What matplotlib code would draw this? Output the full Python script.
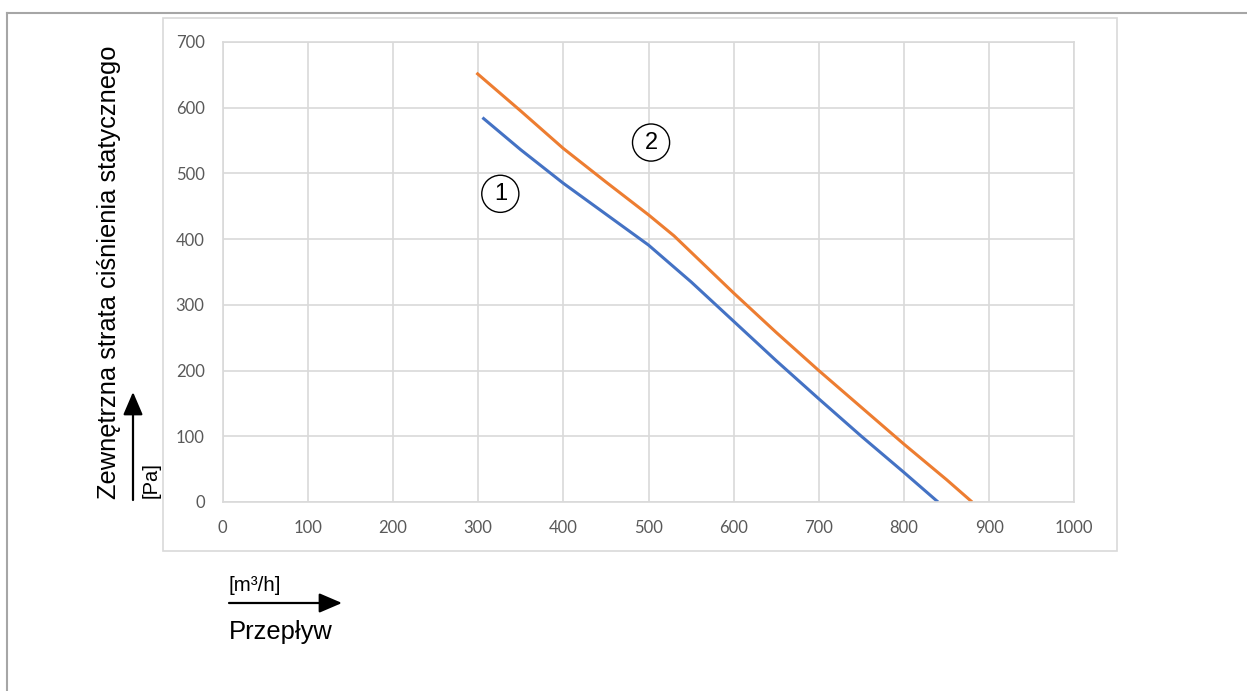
import matplotlib.pyplot as plt
from matplotlib.patches import Rectangle, FancyArrowPatch
from matplotlib.lines import Line2D

# ================= DATA =================
# curve 1 (blue) and curve 2 (orange): flow [m3/h] vs external static pressure [Pa]
flow_1 = [305, 350, 400, 450, 500, 550, 600, 650, 700, 750, 800, 840]
pressure_1 = [585, 536, 485, 438, 391, 335, 275, 215, 157, 100, 45, 0]

flow_2 = [298, 350, 400, 450, 500, 530, 600, 650, 700, 750, 800, 850, 880]
pressure_2 = [653, 595, 538, 487, 437, 405, 318, 258, 200, 144, 88, 34, 0]

x_ticks = [0, 100, 200, 300, 400, 500, 600, 700, 800, 900, 1000]
y_ticks = [0, 100, 200, 300, 400, 500, 600, 700]

y_label = "Zewnętrzna strata ciśnienia statycznego"
y_unit = "[Pa]"
x_label = "Przepływ"
x_unit = "[m³/h]"

BLUE = "#4472C4"
ORANGE = "#ED7D31"
GRID = "#D9D9D9"
TICK = "#595959"

W, H = 1247, 691
fig = plt.figure(figsize=(W / 100, H / 100), dpi=100)


def fx(px):
    return px / W


def fy(py):
    return 1 - py / H


# outer page lines
fig.add_artist(Line2D([fx(7), 1], [fy(12.7), fy(12.7)], color="#A6A6A6", lw=1.5))
fig.add_artist(Line2D([fx(7), fx(7)], [fy(12.7), 0], color="#A6A6A6", lw=1.5))

# chart box
fig.add_artist(Rectangle((fx(162.7), fy(551)), fx(1117) - fx(162.7), fy(18) - fy(551),
                         transform=fig.transFigure, fill=False, edgecolor=GRID, lw=1.2))

ax = fig.add_axes([fx(222.7), fy(502), fx(1074.3) - fx(222.7), fy(42) - fy(502)])
ax.plot(flow_1, pressure_1, color=BLUE, lw=2.2, solid_capstyle="butt")
ax.plot(flow_2, pressure_2, color=ORANGE, lw=2.2, solid_capstyle="butt")

ax.set_xlim(0, 1000)
ax.set_ylim(0, 700)
ax.set_xticks(x_ticks)
ax.set_yticks(y_ticks)
ax.grid(True, color=GRID, lw=1.2)
ax.set_axisbelow(True)
for s in ax.spines.values():
    s.set_color(GRID)
    s.set_linewidth(1.2)
ax.tick_params(length=0, colors=TICK, labelsize=12, pad=13)
for lab in ax.get_xticklabels() + ax.get_yticklabels():
    lab.set_fontfamily("Lato")

# circled curve numbers
circ = dict(boxstyle="circle,pad=0.32", fc="white", ec="black", lw=1.0)
ax.text(326, 469, "1", fontsize=17, family="Liberation Sans", ha="center", va="center", bbox=circ)
ax.text(503, 547, "2", fontsize=17, family="Liberation Sans", ha="center", va="center", bbox=circ)

# axis titles with arrows
fig.text(fx(109), fy(499), y_label, rotation=90, ha="center", va="bottom",
         fontsize=18.4, family="Liberation Sans")
fig.text(fx(151), fy(498), y_unit, rotation=90, ha="center", va="bottom",
         fontsize=14.5, family="Liberation Sans")
fig.add_artist(FancyArrowPatch((fx(133), fy(500)), (fx(133), fy(392)), transform=fig.transFigure,
                               arrowstyle="-|>,head_length=1.4,head_width=0.6",
                               mutation_scale=10, color="black", lw=1.6, shrinkA=0, shrinkB=0))

fig.text(fx(229), fy(591), x_unit, ha="left", va="baseline", fontsize=14.8, family="Liberation Sans")
fig.text(fx(229), fy(639), x_label, ha="left", va="baseline", fontsize=18.4, family="Liberation Sans")
fig.add_artist(FancyArrowPatch((fx(229), fy(603)), (fx(342), fy(603)), transform=fig.transFigure,
                               arrowstyle="-|>,head_length=1.4,head_width=0.6",
                               mutation_scale=10, color="black", lw=1.6, shrinkA=0, shrinkB=0))

fig.savefig("out.png", dpi=100)
